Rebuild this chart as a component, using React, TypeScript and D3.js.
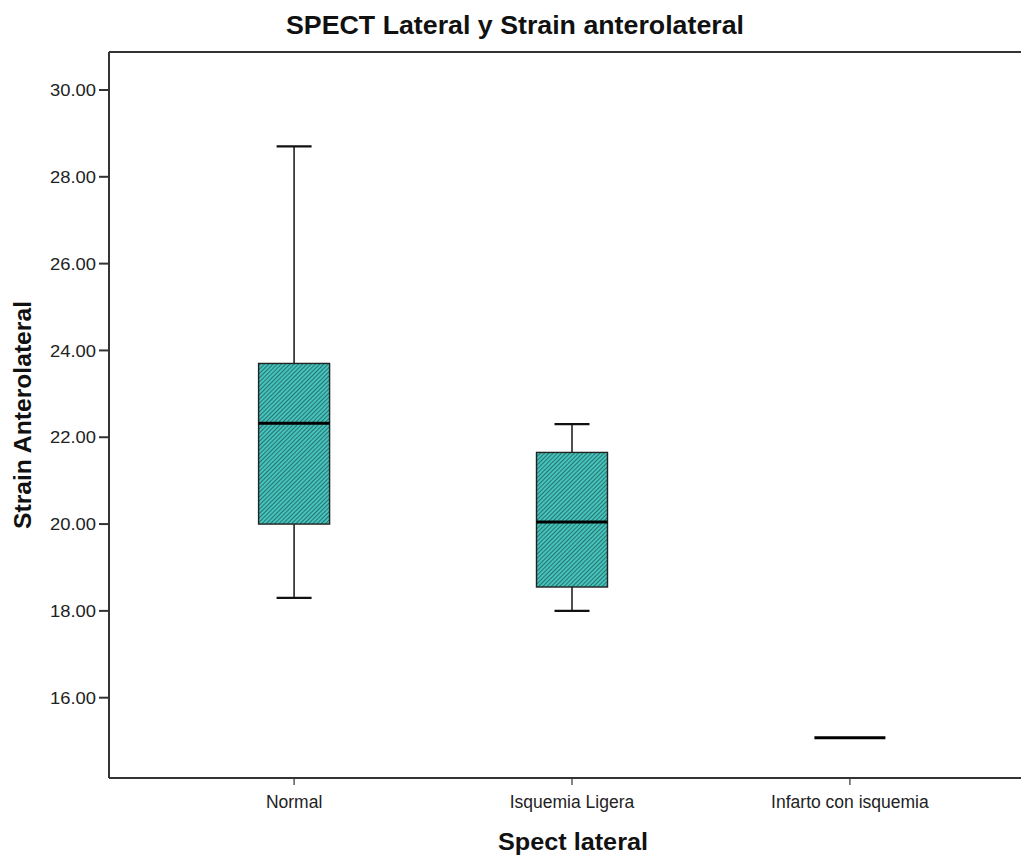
import React from "react";
import * as d3 from "d3";

const categories = ["Normal", "Isquemia Ligera", "Infarto con isquemia"];
const whiskerLow = [18.3, 18.0, 15.08];
const q1 = [20.0, 18.55, 15.08];
const median = [22.32, 20.05, 15.08];
const q3 = [23.7, 21.65, 15.08];
const whiskerHigh = [28.7, 22.3, 15.08];
const yTicks = [16, 18, 20, 22, 24, 26, 28, 30];

const W = 1021;
const H = 857;
const left = 109;
const top = 52;
const bottom = 778;
const right = 1035;

export default function App() {
  const y = d3.scaleLinear().domain([14.15, 30.875]).range([bottom, top]);
  const x = d3.scalePoint<string>().domain(categories).range([left, right]).padding(0.666);
  const boxW = 71;
  const capW = 35;
  const font = "'Liberation Sans', Arial, sans-serif";
  return (
    <svg width={W} height={H} style={{ position: "absolute", left: 0, top: 0, background: "#fff" }}>
      <defs>
        <pattern id="hatch" width={3} height={3} patternUnits="userSpaceOnUse" patternTransform="rotate(45)">
          <rect width={3} height={3} fill="#45c4bd" />
          <line x1={0} y1={0} x2={0} y2={3} stroke="#163533" strokeWidth={1.15} />
        </pattern>
      </defs>
      <rect x={0} y={0} width={W} height={H} fill="#fff" />
      <text x={515} y={34} textAnchor="middle" fontFamily={font} fontWeight="bold" fontSize={25}
        textLength={458} lengthAdjust="spacingAndGlyphs" fill="#111">
        SPECT Lateral y Strain anterolateral
      </text>
      {/* frame */}
      <line x1={left} x2={W} y1={top} y2={top} stroke="#333" strokeWidth={2} />
      <line x1={left} x2={W} y1={bottom} y2={bottom} stroke="#333" strokeWidth={2} />
      <line x1={left} x2={left} y1={top} y2={bottom} stroke="#333" strokeWidth={2} />
      {yTicks.map((t) => (
        <g key={t}>
          <line x1={left - 10} x2={left} y1={y(t)} y2={y(t)} stroke="#333" strokeWidth={2} />
          <text x={96} y={y(t)} dy="0.36em" textAnchor="end" fontFamily={font} fontSize={17}
            textLength={46} lengthAdjust="spacingAndGlyphs" fill="#222">
            {t.toFixed(2)}
          </text>
        </g>
      ))}
      {categories.map((c) => (
        <g key={c}>
          <line x1={x(c)!} x2={x(c)!} y1={bottom} y2={bottom + 7} stroke="#333" strokeWidth={1.2} />
          <text x={x(c)!} y={808} textAnchor="middle" fontFamily={font} fontSize={17.5} fill="#222">
            {c}
          </text>
        </g>
      ))}
      <text
        transform={`translate(31, ${(top + bottom) / 2}) rotate(-90)`}
        textAnchor="middle"
        fontFamily={font}
        fontWeight="bold"
        fontSize={23}
        textLength={228}
        lengthAdjust="spacingAndGlyphs"
        fill="#111"
      >
        Strain Anterolateral
      </text>
      <text x={573} y={850} textAnchor="middle" fontFamily={font} fontWeight="bold" fontSize={23}
        textLength={150} lengthAdjust="spacingAndGlyphs" fill="#111">
        Spect lateral
      </text>
      {categories.map((c, i) => {
        const cx = x(c)!;
        const hasBox = q3[i] > q1[i];
        return (
          <g key={c}>
            {whiskerHigh[i] > q3[i] && (
              <>
                <line x1={cx} x2={cx} y1={y(whiskerHigh[i])} y2={y(q3[i])} stroke="#222" strokeWidth={1.6} />
                <line x1={cx - capW / 2} x2={cx + capW / 2} y1={y(whiskerHigh[i])} y2={y(whiskerHigh[i])} stroke="#111" strokeWidth={2.2} />
              </>
            )}
            {whiskerLow[i] < q1[i] && (
              <>
                <line x1={cx} x2={cx} y1={y(q1[i])} y2={y(whiskerLow[i])} stroke="#222" strokeWidth={1.6} />
                <line x1={cx - capW / 2} x2={cx + capW / 2} y1={y(whiskerLow[i])} y2={y(whiskerLow[i])} stroke="#111" strokeWidth={2.2} />
              </>
            )}
            {hasBox && (
              <rect
                x={cx - boxW / 2}
                y={y(q3[i])}
                width={boxW}
                height={y(q1[i]) - y(q3[i])}
                fill="url(#hatch)"
                stroke="#222"
                strokeWidth={1.4}
              />
            )}
            <line x1={cx - boxW / 2} x2={cx + boxW / 2} y1={y(median[i])} y2={y(median[i])} stroke="#000" strokeWidth={3} />
          </g>
        );
      })}
    </svg>
  );
}
